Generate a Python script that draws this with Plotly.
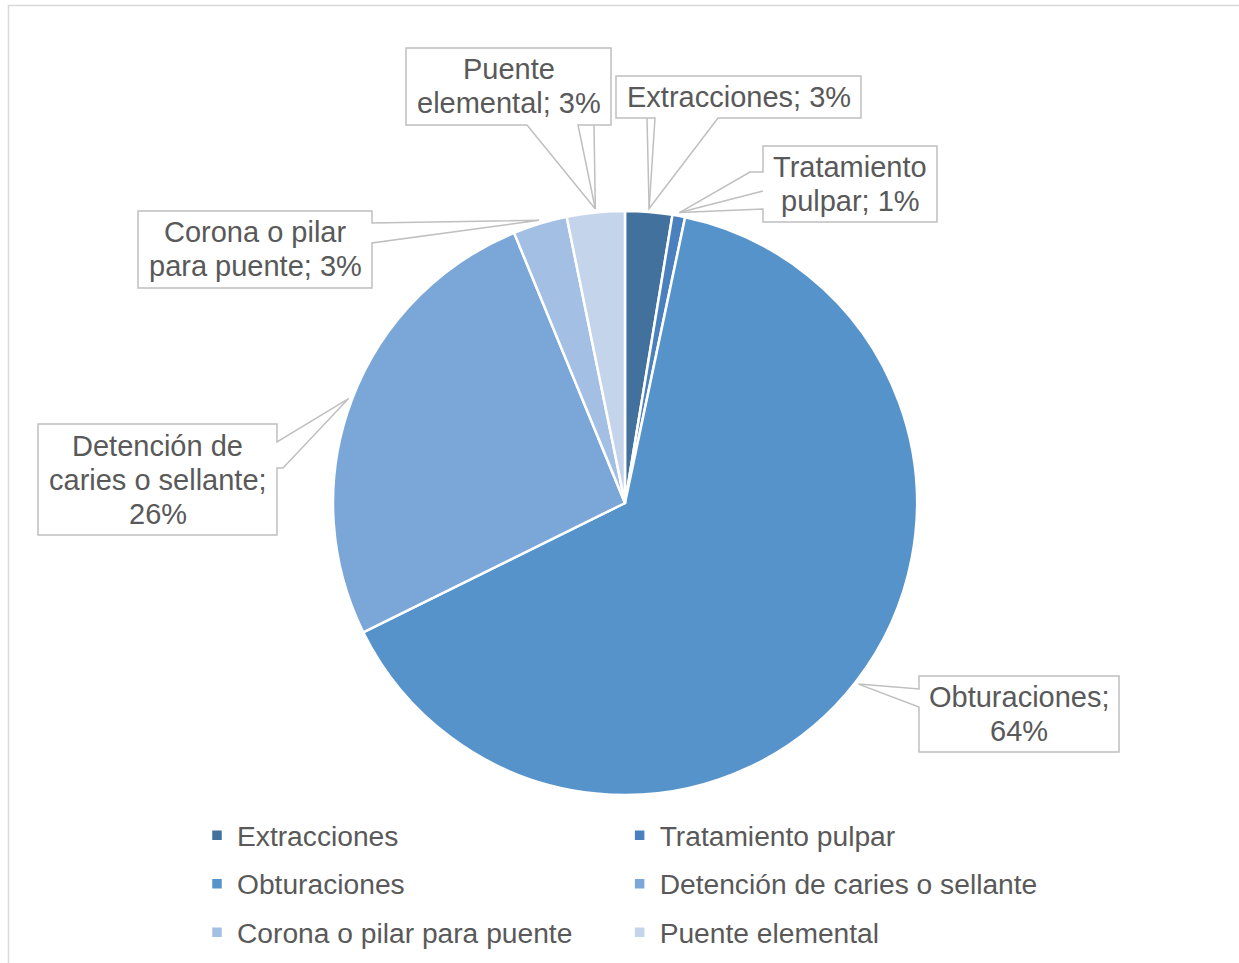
import math
import plotly.graph_objects as go

W, H = 1239, 963

# ---------------- data ----------------
categories = ["Extracciones", "Tratamiento pulpar", "Obturaciones",
              "Detención de caries o sellante", "Corona o pilar para puente",
              "Puente elemental"]
values = [2.6, 0.7, 64.4, 26.1, 3.0, 3.2]
colors = ["#41719C", "#4A80BD", "#5693CA", "#7BA7D8", "#A3BFE3", "#C4D4EB"]
# how each data label wraps (text pieces; {p} = percentage)
label_lines = [
    ["Extracciones; {p}"],
    ["Tratamiento", "pulpar; {p}"],
    ["Obturaciones;", "{p}"],
    ["Detención de", "caries o sellante;", "{p}"],
    ["Corona o pilar", "para puente; {p}"],
    ["Puente", "elemental; {p}"],
]

# ---------------- layout constants (pixels) ----------------
PIE_CX, PIE_CY, PIE_R = 625, 503, 292
FONT = "Liberation Sans, Arial, sans-serif"
TXT = "#595959"
LINE_SP = 34
# label boxes: x0, y0, x1, y1
boxes = [
    (616, 76, 861, 118),
    (763, 146, 937, 222),
    (919, 676, 1119, 752),
    (38, 424, 277, 535),
    (138, 211, 372, 288),
    (406, 48, 611, 125),
]
# callout wedge: side, base1, base2, elbow near base1, elbow near base2
wedges = [
    ("bottom", 655, 718, None, None),
    ("left", 172, 209, (750, 172), None),
    ("left", 689, 707, None, None),
    ("right", 442, 468, None, (283, 468)),
    ("right", 223, 243, None, None),
    ("bottom", 527, 578, None, None),
]
# extra leader line start points (on the box edge)
leaders = [(647, 118), (763, 191), None, None, None, (594, 125)]


def px(x):
    return x / W


def py(y):
    return 1 - y / H


total = sum(values)
pcts = [round(100 * v / total) for v in values]

# tip points computed from slice mid-angles (clockwise from 12 o'clock)
tips = []
cum = 0.0
for v in values:
    mid = (cum + v / 2) / total * 2 * math.pi
    cum += v
    r = PIE_R * 1.012
    tips.append((PIE_CX + r * math.sin(mid), PIE_CY - r * math.cos(mid)))

fig = go.Figure()
fig.add_trace(go.Pie(
    labels=[f'<span style="font-size:28.2px;baseline-shift:3px">{c}</span>'
            for c in categories],
    values=values,
    sort=False,
    direction="clockwise",
    rotation=0,
    textinfo="none",
    marker=dict(colors=colors, line=dict(color="white", width=2.5)),
    domain=dict(x=[px(PIE_CX - PIE_R), px(PIE_CX + PIE_R)],
                y=[py(PIE_CY + PIE_R), py(PIE_CY - PIE_R)]),
    hovertemplate="%{customdata}: %{percent}<extra></extra>",
    customdata=categories,
))

shapes = [dict(type="rect", xref="paper", yref="paper",
               x0=px(8.5), x1=px(W + 20), y0=py(H + 20), y1=py(5.5),
               line=dict(color="#D9D9D9", width=1.5), fillcolor="rgba(0,0,0,0)",
               layer="below")]
annotations = []


def path_from(points, close=True):
    s = "M " + " L ".join(f"{px(x):.6f},{py(y):.6f}" for x, y in points)
    return s + (" Z" if close else "")


for i in range(len(values)):
    x0, y0, x1, y1 = boxes[i]
    side, b1, b2, e1, e2 = wedges[i]
    tip = tips[i]
    if side == "bottom":
        pts = [(x0, y0), (x1, y0), (x1, y1), (b2, y1), tip, (b1, y1), (x0, y1)]
    elif side == "left":
        pts = [(x0, y0), (x1, y0), (x1, y1), (x0, y1), (x0, b2), tip]
        if e1:
            pts.append(e1)
        pts.append((x0, b1))
    else:  # right
        pts = [(x0, y0), (x1, y0), (x1, b1)]
        if e1:
            pts.append(e1)
        pts.append(tip)
        if e2:
            pts.append(e2)
        pts += [(x1, b2), (x1, y1), (x0, y1)]
    shapes.append(dict(type="path", xref="paper", yref="paper",
                       path=path_from(pts), fillcolor="white",
                       line=dict(color="#BFBFBF", width=1.5), layer="above"))
    if leaders[i]:
        shapes.append(dict(type="path", xref="paper", yref="paper",
                           path=path_from([leaders[i], tip], close=False),
                           line=dict(color="#BFBFBF", width=1.5), layer="above"))
    lines = [t.replace("{p}", f"{pcts[i]}%") for t in label_lines[i]]
    cx = (x0 + x1) / 2
    cy = (y0 + y1) / 2
    n = len(lines)
    for k, t in enumerate(lines):
        ly = cy + (k - (n - 1) / 2) * LINE_SP
        annotations.append(dict(text=t, x=px(cx), y=py(ly), xref="paper", yref="paper",
                                xanchor="center", yanchor="middle", showarrow=False,
                                font=dict(family=FONT, size=29, color=TXT)))

fig.update_layout(
    width=W, height=H,
    margin=dict(l=0, r=0, t=0, b=0, autoexpand=False),
    paper_bgcolor="white",
    plot_bgcolor="white",
    showlegend=True,
    legend=dict(orientation="h", x=px(197), xanchor="left",
                y=py(806), yanchor="top",
                font=dict(family=FONT, size=35, color=TXT),
                bgcolor="rgba(0,0,0,0)", traceorder="normal"),
    shapes=shapes,
    annotations=annotations,
)

fig.write_html("out.html")
